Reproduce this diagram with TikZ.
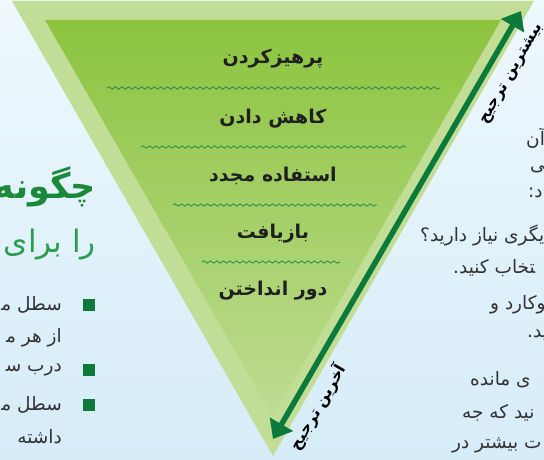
\documentclass[tikz,border=0pt]{standalone}
\usepackage{fontspec}
\usetikzlibrary{decorations.pathmorphing,arrows.meta}
\newfontfamily\arabicfont[Script=Arabic]{DejaVu Sans}
\TeXXeTstate=1
\definecolor{bgtop}{HTML}{EEF8FD}
\definecolor{bgbot}{HTML}{D6ECF8}
\definecolor{outerg}{HTML}{C2DE96}
\definecolor{innertop}{HTML}{8CC43F}
\definecolor{innerbot}{HTML}{BEDC92}
\definecolor{arrowg}{HTML}{0B7A3B}
\definecolor{waveg}{HTML}{1E8C4E}
\definecolor{titleg}{HTML}{1A8A3A}
\definecolor{subg}{HTML}{2A9E4E}
\definecolor{txt}{HTML}{333333}
\tikzset{
  lab/.style={font=\arabicfont\bfseries\fontsize{19}{23}\selectfont, text=black!88, inner sep=0pt},
  arrlab/.style={font=\arabicfont\bfseries\fontsize{15.5}{18}\selectfont, text=black, inner sep=0pt, rotate=60},
  wave/.style={draw=waveg, line width=0.8pt, decorate, decoration={snake, segment length=6.5pt, amplitude=1.2pt}},
  arr/.style={draw=arrowg, line width=5.5pt, {Triangle[length=17pt,width=26pt]}-{Triangle[length=17pt,width=26pt]}},
  body/.style={font=\arabicfont\fontsize{18.5}{22}\selectfont, text=txt, inner sep=0pt},
  bsq/.style={fill=arrowg, minimum size=12pt, inner sep=0pt},
}
\begin{document}
\begin{tikzpicture}[x=1pt,y=-1pt]
\useasboundingbox (0,0) rectangle (544,460);
\clip (0,0) rectangle (544,460);
\shade[top color=bgtop,bottom color=bgbot] (0,0) rectangle (544,460);

% triangles
\fill[outerg] (12,1) -- (534,1) -- (273,456) -- cycle;
\shade[top color=innertop,bottom color=innerbot] (45,20) -- (501,20) -- (273,417) -- cycle;

% separators
\draw[wave] (107,88) -- (440,88);
\draw[wave] (141,147) -- (406,147);
\draw[wave] (173,205) -- (377,205);
\draw[wave] (202,262) -- (340,262);

% levels
\node[lab] (l1) at (273,59) {\beginR پرهیزکردن\endR};
\node[lab] (l2) at (273,119) {\beginR کاهش دادن\endR};
\node[lab] (l3) at (273,176) {\beginR استفاده مجدد\endR};
\node[lab] (l4) at (273,234) {\beginR بازیافت\endR};
\node[lab] (l5) at (273,291) {\beginR دور انداختن\endR};

% arrow
\coordinate (lo) at (273,439);
\coordinate (hi) at (521,11);
\draw[arr] (lo) -- (hi);
\node[arrlab] (top) at (512,74) {\beginR بیشترین ترجیح\endR};
\node[arrlab] (bot) at (318,407) {\beginR آخرین ترجیح\endR};

% left text
\node[anchor=east, inner sep=0pt, text=titleg, font=\arabicfont\bfseries\fontsize{35}{40}\selectfont] (t1) at (96,187) {\beginR چگونه\endR};
\node[anchor=east, inner sep=0pt, text=subg, font=\arabicfont\fontsize{31}{36}\selectfont] (t2) at (96,245) {\beginR را برای\endR};

\node[bsq] (b1) at (89,305) {};
\node[bsq] (b2) at (89,370) {};
\node[bsq] (b3) at (89,405) {};
\node[body, anchor=east] (bt1) at (62,305) {\beginR سطل م^^^^200d\endR};
\node[body, anchor=east] (bt2) at (62,338) {\beginR از هر م^^^^200d\endR};
\node[body, anchor=east] (bt3) at (62,370) {\beginR درب س^^^^200d\endR};
\node[body, anchor=east] (bt4) at (62,405) {\beginR سطل م^^^^200d\endR};
\node[body, anchor=east] (bt5) at (62,437) {\beginR داشته\endR};

% right text
\node[body, anchor=west] (r1) at (526,138) {\beginR آن\endR};
\node[body, anchor=west] (r2) at (530,166) {\beginR ئی\endR};
\node[body, anchor=west] (r3) at (528,193) {\beginR د:\endR};
\node[body, anchor=west] (r4) at (420,235) {\beginR یگری نیاز دارید؟\endR};
\node[body, anchor=west] (r5) at (453,268) {\beginR ^^^^200dتخاب کنید.\endR};
\node[body, anchor=west] (r6) at (490,305) {\beginR وکارد و\endR};
\node[body, anchor=west] (r7) at (527,335) {\beginR ید.\endR};
\node[body, anchor=west] (r8) at (470,380) {\beginR ی مانده\endR};
\node[body, anchor=west] (r9) at (462,413) {\beginR نید که جه\endR};
\node[body, anchor=west] (r10) at (452,445) {\beginR ت بیشتر در\endR};
\end{tikzpicture}
\end{document}
